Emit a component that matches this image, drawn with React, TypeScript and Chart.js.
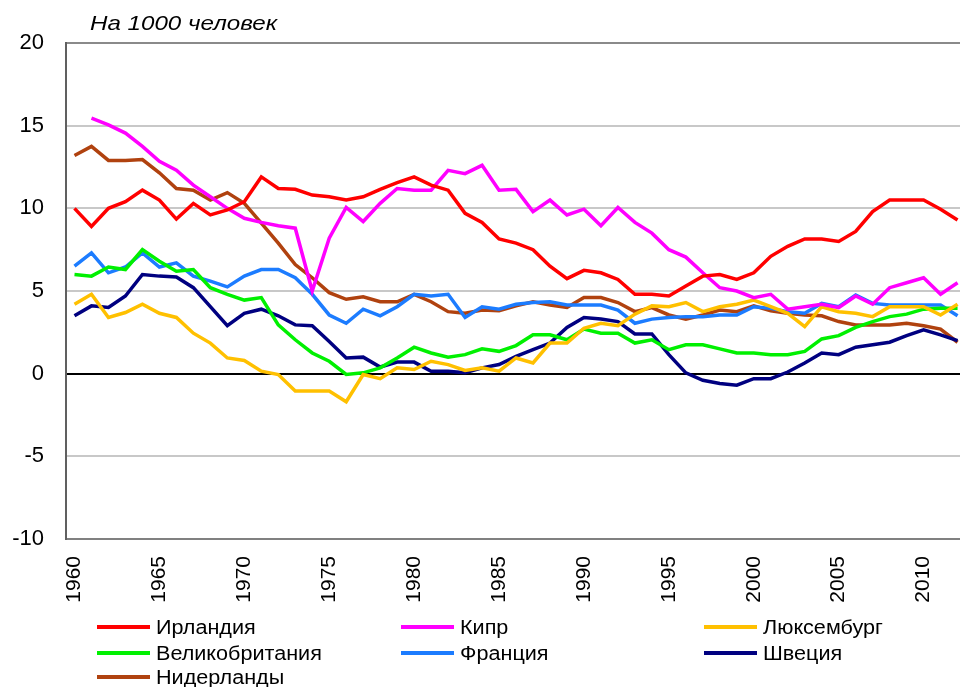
import React, { useEffect, useRef } from "react";
import { Chart, registerables } from "chart.js";

Chart.register(...registerables);

const years: string[] = [];
for (let y = 1960; y <= 2012; y++) years.push(String(y));

const seriesNames = ["Ирландия", "Кипр", "Люксембург", "Великобритания", "Франция", "Швеция", "Нидерланды"];
const seriesColors = ["#FF0000", "#FF00FF", "#FFC000", "#00F000", "#1C7CFF", "#000080", "#B0420F"];

const ireland = [
  10.0, 8.9, 10.0, 10.4, 11.1, 10.5, 9.35, 10.3, 9.6, 9.9,
  10.4, 11.9, 11.2, 11.15, 10.8, 10.7, 10.5, 10.7, 11.15, 11.55,
  11.9, 11.4, 11.1, 9.7, 9.15, 8.15, 7.9, 7.5, 6.5, 5.75,
  6.25, 6.1, 5.7, 4.8, 4.8, 4.7, 5.3, 5.9, 6.0, 5.7,
  6.1, 7.1, 7.7, 8.15, 8.15, 8.0, 8.6, 9.8, 10.5, 10.5,
  10.5, 9.95, 9.3,
];
const cyprus = [
  null, 15.45, 15.05, 14.55, 13.75, 12.85, 12.3, 11.4, 10.7, 10.0,
  9.4, 9.15, 8.95, 8.8, 5.0, 8.2, 10.05, 9.2, 10.3, 11.2,
  11.1, 11.1, 12.3, 12.1, 12.6, 11.1, 11.15, 9.8, 10.5, 9.6,
  9.95, 8.95, 10.05, 9.15, 8.5, 7.5, 7.05, 6.1, 5.2, 5.0,
  4.6, 4.8, 3.9, 4.05, 4.2, 4.0, 4.7, 4.2, 5.2, 5.5,
  5.8, 4.8, 5.5,
];
const luxembourg = [
  4.2, 4.8, 3.4, 3.7, 4.2, 3.65, 3.4, 2.45, 1.85, 0.95,
  0.8, 0.15, -0.05, -1.05, -1.05, -1.05, -1.7, -0.05, -0.3, 0.35,
  0.25, 0.75, 0.55, 0.2, 0.35, 0.15, 0.95, 0.65, 1.85, 1.85,
  2.75, 3.05, 2.9, 3.6, 4.1, 4.05, 4.3, 3.75, 4.05, 4.2,
  4.45, 4.05, 3.65, 2.85, 4.05, 3.75, 3.65, 3.45, 4.05, 4.05,
  4.05, 3.55, 4.2,
];
const uk = [
  6.0, 5.9, 6.45, 6.3, 7.5, 6.8, 6.2, 6.3, 5.2, 4.8,
  4.45, 4.6, 2.95, 2.05, 1.25, 0.75, -0.05, 0.05, 0.35, 0.95,
  1.6, 1.25, 1.0, 1.15, 1.5, 1.35, 1.7, 2.35, 2.35, 2.05,
  2.7, 2.45, 2.45, 1.85, 2.05, 1.45, 1.75, 1.75, 1.5, 1.25,
  1.25, 1.15, 1.15, 1.35, 2.1, 2.3, 2.8, 3.15, 3.45, 3.6,
  3.9, 3.95, 3.95,
];
const france = [
  6.5, 7.3, 6.1, 6.45, 7.3, 6.45, 6.7, 5.9, 5.6, 5.25,
  5.9, 6.3, 6.3, 5.8, 4.8, 3.55, 3.05, 3.9, 3.5, 4.05,
  4.8, 4.7, 4.8, 3.4, 4.05, 3.9, 4.2, 4.3, 4.35, 4.15,
  4.15, 4.15, 3.85, 3.05, 3.3, 3.4, 3.45, 3.45, 3.55, 3.55,
  4.05, 3.95, 3.75, 3.65, 4.25, 4.05, 4.75, 4.25, 4.15, 4.15,
  4.15, 4.15, 3.5,
];
const sweden = [
  3.5, 4.1, 4.0, 4.7, 6.0, 5.9, 5.85, 5.2, 4.05, 2.9,
  3.65, 3.9, 3.5, 2.95, 2.9, 1.95, 0.95, 1.0, 0.4, 0.7,
  0.7, 0.15, 0.15, 0.05, 0.35, 0.55, 1.05, 1.45, 1.85, 2.8,
  3.4, 3.3, 3.15, 2.4, 2.4, 1.15, 0.05, -0.4, -0.6, -0.7,
  -0.3, -0.3, 0.1, 0.65, 1.25, 1.15, 1.6, 1.75, 1.9, 2.3,
  2.65, 2.35, 2.0,
];
const netherlands = [
  13.2, 13.75, 12.9, 12.9, 12.95, 12.15, 11.2, 11.1, 10.5, 10.95,
  10.3, 9.1, 7.9, 6.6, 5.8, 4.9, 4.5, 4.65, 4.35, 4.35,
  4.8, 4.35, 3.75, 3.65, 3.85, 3.8, 4.1, 4.35, 4.15, 4.0,
  4.6, 4.6, 4.3, 3.75, 4.0, 3.55, 3.3, 3.55, 3.85, 3.75,
  4.1, 3.8, 3.65, 3.55, 3.5, 3.15, 2.95, 2.95, 2.95, 3.05,
  2.9, 2.7, 1.9,
];

const seriesData = [ireland, cyprus, luxembourg, uk, france, sweden, netherlands];

const yTicks = [-10, -5, 0, 5, 10, 15, 20];
const titleText = "На 1000 человек";

const FONT = '"Liberation Sans", Arial, sans-serif';

export default function App() {
  const canvasRef = useRef<HTMLCanvasElement | null>(null);

  useEffect(() => {
    const canvas = canvasRef.current;
    if (!canvas) return;
    const chart = new Chart(canvas, {
      type: "line",
      data: {
        labels: years,
        datasets: seriesNames.map((name, i) => ({
          label: name,
          data: seriesData[i] as (number | null)[],
          borderColor: seriesColors[i],
          backgroundColor: seriesColors[i],
          borderWidth: 3.5,
          pointRadius: 0,
          tension: 0,
          spanGaps: false,
        })),
      },
      options: {
        responsive: false,
        animation: false,
        devicePixelRatio: 1,
        layout: { padding: { top: 43, right: 25, left: 0, bottom: 0 } },
        plugins: {
          legend: { display: false },
          tooltip: { enabled: false },
          title: { display: false },
        },
        scales: {
          x: {
            type: "category",
            offset: true,
            grid: { display: false, drawTicks: false },
            border: { display: true, color: "#808080", width: 2 },
            ticks: {
              autoSkip: false,
              minRotation: 90,
              maxRotation: 90,
              padding: 17,
              color: "#000",
              font: { family: FONT, size: 21 },
              callback: function (_v: any, idx: number) {
                const y = Number(years[idx]);
                return y % 5 === 0 ? years[idx] : "";
              },
            },
            afterFit: (scale: any) => {
              scale.height = 148;
            },
          },
          y: {
            min: -10,
            max: 20,
            afterBuildTicks: (scale: any) => {
              scale.ticks = yTicks.map((v) => ({ value: v }));
            },
            grid: {
              drawTicks: false,
              color: (ctx: any) => {
                const v = ctx.tick ? ctx.tick.value : null;
                if (v === 0) return "#000000";
                if (v === 20) return "#8a8a8a";
                if (v === -10) return "rgba(0,0,0,0)";
                return "#c8c8c8";
              },
              lineWidth: 2,
            },
            border: { display: true, color: "#606060", width: 2 },
            ticks: {
              padding: 22,
              color: "#000",
              font: { family: FONT, size: 22 },
            },
            afterFit: (scale: any) => {
              scale.width = 66;
            },
          },
        },
      },
    });
    return () => chart.destroy();
  }, []);

  const colX = [97, 401, 704];
  const rowY = [627, 653, 677];

  return (
    <div
      style={{
        position: "absolute",
        left: 0,
        top: 0,
        width: 960,
        height: 687,
        overflow: "hidden",
        background: "#fff",
        fontFamily: FONT,
      }}
    >
      <canvas ref={canvasRef} width={1000} height={687} style={{ position: "absolute", left: 0, top: 0, width: 1000, height: 687 }} />
      <div
        style={{
          position: "absolute",
          left: 90,
          top: 11,
          fontSize: 21,
          fontStyle: "italic",
          color: "#000",
          whiteSpace: "nowrap",
          lineHeight: "24px",
          transform: "scaleX(1.15)",
          transformOrigin: "left center",
        }}
      >
        {titleText}
      </div>
      {seriesNames.map((name, i) => {
        const col = i % 3;
        const row = Math.floor(i / 3);
        return (
          <div
            key={name}
            style={{
              position: "absolute",
              left: colX[col],
              top: rowY[row] - 12,
              height: 24,
              display: "flex",
              alignItems: "center",
              whiteSpace: "nowrap",
            }}
          >
            <span style={{ display: "inline-block", width: 53, height: 4, background: seriesColors[i], marginRight: 6 }} />
            <span
              style={{
                display: "inline-block",
                fontSize: 20,
                color: "#000",
                lineHeight: "24px",
                transform: "scaleX(1.08)",
                transformOrigin: "left center",
              }}
            >
              {name}
            </span>
          </div>
        );
      })}
    </div>
  );
}
